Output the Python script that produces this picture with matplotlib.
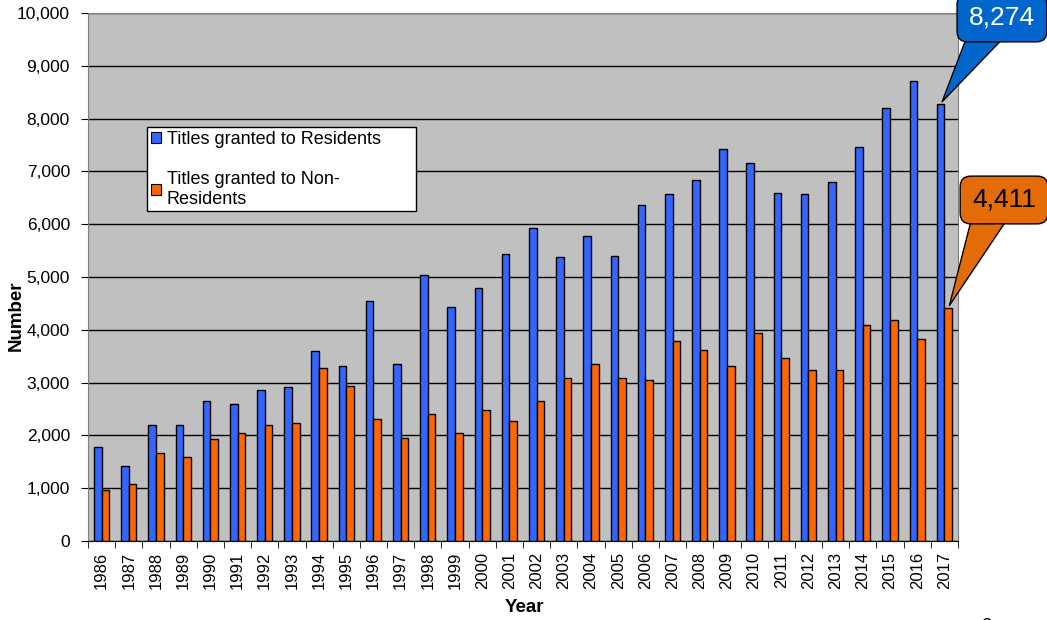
import matplotlib
matplotlib.use("Agg")
import matplotlib.pyplot as plt
from matplotlib.ticker import FuncFormatter, MultipleLocator, FixedLocator
import numpy as np

plt.rcParams['font.family'] = ['Liberation Sans', 'DejaVu Sans']

years = list(range(1986, 2018))
residents = [1775, 1425, 2200, 2200, 2650, 2600, 2860, 2920, 3600, 3310,
             4550, 3350, 5040, 4440, 4790, 5440, 5930, 5380, 5770, 5390,
             6360, 6570, 6840, 7420, 7160, 6590, 6570, 6800, 7460, 8210,
             8710, 8274]
non_residents = [960, 1075, 1660, 1590, 1940, 2050, 2200, 2240, 3270, 2930,
                 2320, 1950, 2410, 2050, 2490, 2270, 2660, 3080, 3360, 3090,
                 3055, 3780, 3620, 3310, 3940, 3470, 3245, 3240, 4100, 4190,
                 3830, 4411]

blue = '#3366FF'
orange = '#FF6600'

W, H = 1047, 620
fig = plt.figure(figsize=(W / 100, H / 100), dpi=100)
ax = fig.add_axes([88 / W, (H - 541) / H, 870 / W, 528 / H])
ax.set_facecolor('#C0C0C0')

x = np.arange(len(years))
bw = 0.28
ax.bar(x - bw / 2, residents, bw, color=blue, edgecolor='black', linewidth=1,
       label='Titles granted to Residents', zorder=3)
ax.bar(x + bw / 2, non_residents, bw, color=orange, edgecolor='black', linewidth=1,
       label='Titles granted to Non-\nResidents', zorder=3)

ax.set_xlim(-0.5, len(years) - 0.5)
ax.set_ylim(0, 10000)
ax.yaxis.set_major_locator(MultipleLocator(1000))
ax.yaxis.set_major_formatter(FuncFormatter(lambda v, p: f'{v:,.0f}'))
ax.grid(axis='y', color='black', linewidth=1, zorder=1)
ax.set_axisbelow(True)

ax.set_xticks(x)
ax.set_xticklabels([str(y) for y in years], rotation=90, fontsize=12)
ax.xaxis.set_minor_locator(FixedLocator(np.arange(-0.5, len(years), 1.0)))
ax.tick_params(axis='x', which='major', length=0, pad=8)
ax.tick_params(axis='x', which='minor', length=5, direction='out', color='black')
ax.tick_params(axis='y', length=5, direction='out', labelsize=12.5, pad=8)

for s in ax.spines.values():
    s.set_color('#808080')
ax.spines['bottom'].set_color('black')

fig.text(16 / W, 1 - 316 / H, 'Number', rotation=90, fontsize=13.5, fontweight='bold',
         ha='center', va='center')
fig.text(524 / W, 1 - 608 / H, 'Year', fontsize=13.5, fontweight='bold',
         ha='center', va='center')
fig.text(987 / W, -6 / H, '6', fontsize=15, ha='center', va='center')

leg = ax.legend(loc='upper left', mode='expand',
                bbox_to_anchor=(147 / W, 1 - 209 / H, 269 / W, 82 / H),
                bbox_transform=fig.transFigure, fontsize=13, frameon=True,
                fancybox=False, edgecolor='black', framealpha=1,
                handlelength=0.6, handleheight=0.6, handletextpad=0.3,
                labelspacing=1.3, borderpad=0.2, borderaxespad=0)
leg.get_frame().set_linewidth(1)
for h in leg.legend_handles:
    h.set_linewidth(0.8)

# callouts for the last year
ax.annotate(f'{residents[-1]:,}', xy=(x[-1] - bw / 2, residents[-1]), xycoords='data',
            xytext=(1002, H - 18), textcoords='figure pixels',
            fontsize=19, color='white', ha='center', va='center',
            bbox=dict(boxstyle='round,pad=0.45,rounding_size=0.4', fc='#0066CC', ec='black', lw=1),
            arrowprops=dict(arrowstyle='wedge,tail_width=1.4,shrink_factor=0.5',
                            fc='#0066CC', ec='black', lw=1, relpos=(0.35, 0.3),
                            patchA=None),
            annotation_clip=False, zorder=5)
ax.annotate(f'{non_residents[-1]:,}', xy=(x[-1] + bw / 2, non_residents[-1]), xycoords='data',
            xytext=(1004, H - 200), textcoords='figure pixels',
            fontsize=19, color='black', ha='center', va='center',
            bbox=dict(boxstyle='round,pad=0.45,rounding_size=0.4', fc='#E36C09', ec='black', lw=1),
            arrowprops=dict(arrowstyle='wedge,tail_width=1.4,shrink_factor=0.5',
                            fc='#E36C09', ec='black', lw=1, relpos=(0.35, 0.3),
                            patchA=None),
            annotation_clip=False, zorder=5)

fig.savefig('out.png', dpi=100)
